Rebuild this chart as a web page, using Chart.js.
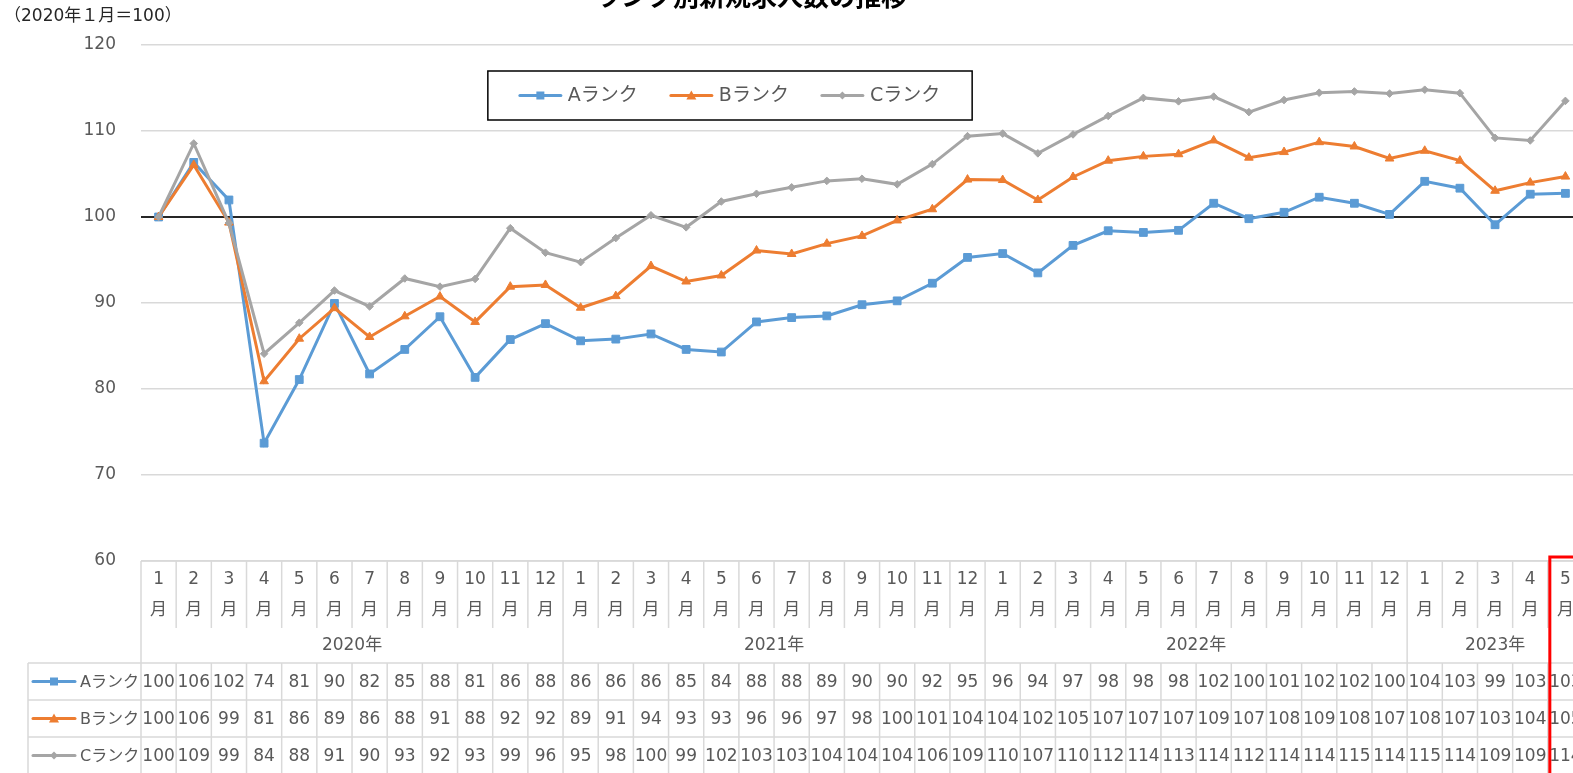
<!DOCTYPE html>
<html lang="ja">
<head>
<meta charset="utf-8">
<script src="https://cdn.jsdelivr.net/npm/chart.js@4.4.1/dist/chart.umd.min.js"></script>
<style>
  html, body { margin: 0; padding: 0; background: #fff; overflow: hidden; }
  #wrap { width: 1600px; height: 773px; }
</style>
</head>
<body>
<div id="wrap"><canvas id="rank-chart" width="1600" height="773"></canvas></div>
<script>
var chartTitle = 'ランク別新規求人数の推移';
var unitLabel = '（2020年１月＝100）';

// months along the axis, grouped by year below
var months = [1, 2, 3, 4, 5, 6, 7, 8, 9, 10, 11, 12,
              1, 2, 3, 4, 5, 6, 7, 8, 9, 10, 11, 12,
              1, 2, 3, 4, 5, 6, 7, 8, 9, 10, 11, 12,
              1, 2, 3, 4, 5];
var yearLabels = ['2020年', '2021年', '2022年', '2023年'];
var yearSpans = [12, 12, 12, 5];

var rankNames = ['Aランク', 'Bランク', 'Cランク'];
var rankA = [100, 106.35, 101.98, 73.7, 81.1, 89.95, 81.75, 84.6, 88.4, 81.35, 85.75, 87.6,
             85.6, 85.8, 86.4, 84.6, 84.3, 87.8, 88.3, 88.5, 89.8, 90.25, 92.3, 95.3,
             95.75, 93.5, 96.7, 98.4, 98.2, 98.45, 101.6, 99.8, 100.55, 102.3, 101.6, 100.3,
             104.15, 103.35, 99.1, 102.65, 102.75];
var rankB = [100, 106.05, 99.35, 80.9, 85.85, 89.4, 86.05, 88.45, 90.75, 87.8, 91.9, 92.1,
             89.45, 90.8, 94.3, 92.5, 93.2, 96.1, 95.7, 96.9, 97.8, 99.6, 100.9, 104.35,
             104.3, 101.98, 104.65, 106.55, 107.05, 107.3, 108.9, 106.9, 107.55, 108.7, 108.2, 106.8,
             107.7, 106.55, 103.05, 104.0, 104.7];
var rankC = [100, 108.55, 99.3, 84.1, 87.7, 91.45, 89.6, 92.85, 91.9, 92.8, 98.7, 95.85,
             94.75, 97.55, 100.2, 98.8, 101.8, 102.7, 103.45, 104.2, 104.45, 103.8, 106.15, 109.4,
             109.7, 107.4, 109.6, 111.75, 113.85, 113.45, 114.0, 112.2, 113.6, 114.45, 114.6, 114.35,
             114.8, 114.4, 109.2, 108.9, 113.5];

var rankColors = ['#5b9bd5', '#ed7d31', '#a5a5a5'];
var rankMarkers = ['rect', 'triangle', 'rectRot'];
var textColor = '#595959';
var lineGray = '#d9d9d9';
var numFont = '"DejaVu Sans", "Noto Sans CJK JP", sans-serif';
var jpFont = '"Noto Sans CJK JP", sans-serif';

function drawMarker(ctx, style, x, y, color) {
  ctx.fillStyle = color;
  ctx.beginPath();
  if (style === 'rect') {
    ctx.rect(x - 4, y - 4, 8, 8);
  } else if (style === 'triangle') {
    ctx.moveTo(x, y - 5);
    ctx.lineTo(x + 5, y + 4);
    ctx.lineTo(x - 5, y + 4);
    ctx.closePath();
  } else {
    ctx.moveTo(x, y - 4);
    ctx.lineTo(x + 4, y);
    ctx.lineTo(x, y + 4);
    ctx.lineTo(x - 4, y);
    ctx.closePath();
  }
  ctx.fill();
}

function drawKey(ctx, i, x0, x1, y) {
  ctx.strokeStyle = rankColors[i];
  ctx.lineWidth = 3;
  ctx.lineCap = 'round';
  ctx.beginPath();
  ctx.moveTo(x0, y);
  ctx.lineTo(x1, y);
  ctx.stroke();
  ctx.lineCap = 'butt';
  drawMarker(ctx, rankMarkers[i], (x0 + x1) / 2, y, rankColors[i]);
}

function hLine(ctx, x0, x1, y) {
  ctx.beginPath();
  ctx.moveTo(x0, y);
  ctx.lineTo(x1, y);
  ctx.stroke();
}
function vLine(ctx, x, y0, y1) {
  ctx.beginPath();
  ctx.moveTo(x, y0);
  ctx.lineTo(x, y1);
  ctx.stroke();
}

// title, unit note, boxed legend, data table and the red highlight box
var excelDecor = {
  id: 'excelDecor',
  afterDraw: function(chart) {
    var ctx = chart.ctx;
    var area = chart.chartArea;
    var xs = chart.scales.x;
    var n = months.length;
    var colW = (area.right - area.left) / n;
    var series = chart.data.datasets.map(function(d) { return d.data; });
    ctx.save();

    // title (top of it is cut off in the original)
    ctx.fillStyle = '#000';
    ctx.font = 'bold 26px ' + jpFont;
    ctx.textAlign = 'center';
    ctx.textBaseline = 'alphabetic';
    ctx.fillText(chartTitle, 751, 6);

    ctx.font = '17px ' + numFont;
    ctx.textAlign = 'left';
    ctx.textBaseline = 'middle';
    ctx.fillStyle = '#262626';
    ctx.fillText(unitLabel, 4, 17);

    // legend box
    ctx.font = '19px ' + numFont;
    var keyLen = 41, keyGap = 7, itemGap = 33, padX = 32;
    var widths = rankNames.map(function(t) { return ctx.measureText(t).width; });
    var total = 0;
    widths.forEach(function(w, i) { total += keyLen + keyGap + w + (i ? itemGap : 0); });
    var boxW = total + padX * 2;
    var boxL = 730 - boxW / 2, boxT = 71, boxH = 49;
    ctx.fillStyle = '#fff';
    ctx.fillRect(boxL, boxT, boxW, boxH);
    ctx.strokeStyle = '#000';
    ctx.lineWidth = 1.5;
    ctx.strokeRect(boxL, boxT, boxW, boxH);
    var lx = boxL + padX, ly = boxT + boxH / 2;
    rankNames.forEach(function(name, i) {
      drawKey(ctx, i, lx, lx + keyLen, ly);
      ctx.fillStyle = textColor;
      ctx.fillText(name, lx + keyLen + keyGap, ly + 1);
      lx += keyLen + keyGap + widths[i] + itemGap;
    });

    // category axis as a table
    var top = area.bottom;
    var monthEnd = top + 67, tableTop = top + 102, rowH = 37;
    var tableLeft = 28, right = chart.width;
    ctx.strokeStyle = lineGray;
    ctx.lineWidth = 1.5;
    hLine(ctx, area.left, right, top);
    hLine(ctx, tableLeft, right, tableTop);
    for (var r = 1; r <= 3; r++) hLine(ctx, tableLeft, right, tableTop + rowH * r);
    vLine(ctx, tableLeft, tableTop, chart.height);

    var yearStarts = [];
    var acc = 0;
    yearSpans.forEach(function(s) { yearStarts.push(acc); acc += s; });
    yearStarts.push(acc);

    for (var b = 0; b <= n; b++) {
      var bx = area.left + colW * b;
      var isYear = yearStarts.indexOf(b) >= 0;
      vLine(ctx, bx, top, isYear ? chart.height : monthEnd);
      if (!isYear) vLine(ctx, bx, tableTop, chart.height);
    }

    ctx.fillStyle = textColor;
    ctx.textAlign = 'center';
    ctx.textBaseline = 'middle';
    for (var i = 0; i < n; i++) {
      var cx = xs.getPixelForValue(i);
      ctx.font = '17px ' + numFont;
      ctx.fillText(String(months[i]), cx, top + 19);
      ctx.font = '17px ' + jpFont;
      ctx.fillText('月', cx, top + 48);
      ctx.font = '17px ' + numFont;
      for (var s = 0; s < series.length; s++) {
        ctx.fillText(String(Math.round(series[s][i])), cx, tableTop + rowH * s + rowH / 2 + 1);
      }
    }
    ctx.font = '17px ' + numFont;
    yearLabels.forEach(function(label, k) {
      var yx = area.left + colW * (yearStarts[k] + yearStarts[k + 1]) / 2;
      ctx.fillText(label, yx, top + 85);
    });

    // row headers
    ctx.textAlign = 'left';
    ctx.font = '16px ' + numFont;
    rankNames.forEach(function(name, i) {
      var ry = tableTop + rowH * i + rowH / 2;
      drawKey(ctx, i, 33, 75, ry);
      ctx.fillStyle = textColor;
      ctx.fillText(name, 80, ry + 1);
    });

    // red highlight around the latest month
    var lastLeft = area.left + colW * (n - 1);
    ctx.strokeStyle = '#ff0000';
    ctx.lineWidth = 3;
    ctx.strokeRect(lastLeft + 2, top - 4, colW + 40, 300);

    ctx.restore();
  }
};

var datasets = [rankA, rankB, rankC].map(function(values, i) {
  return {
    label: rankNames[i],
    data: values,
    borderColor: rankColors[i],
    backgroundColor: rankColors[i],
    borderWidth: 3,
    pointStyle: rankMarkers[i],
    pointRadius: [5.5, 5, 3.8][i],
    pointBorderWidth: 1,
    pointBorderColor: rankColors[i],
    pointBackgroundColor: rankColors[i],
    tension: 0,
    order: 3 - i
  };
});

var chartEl = document.getElementById('rank-chart');
var myChart = new Chart(chartEl, {
  type: 'line',
  data: {
    labels: months.map(function(m) { return m + '月'; }),
    datasets: datasets
  },
  options: {
    responsive: false,
    animation: false,
    devicePixelRatio: 1,
    layout: {
      padding: { left: 0, right: 17, top: 45, bottom: 212 }
    },
    plugins: {
      legend: { display: false },
      title: { display: false },
      tooltip: { enabled: false }
    },
    scales: {
      x: {
        type: 'category',
        offset: true,
        display: false
      },
      y: {
        min: 60,
        max: 120,
        afterFit: function(axis) { axis.width = 141; },
        border: { display: false },
        grid: {
          drawTicks: false,
          color: function(c) { return c.tick && c.tick.value === 100 ? '#262626' : lineGray; },
          lineWidth: function(c) { return c.tick && c.tick.value === 100 ? 2 : 1.5; }
        },
        ticks: {
          stepSize: 10,
          padding: 25,
          color: textColor,
          font: { family: '"DejaVu Sans", sans-serif', size: 17 }
        }
      }
    }
  },
  plugins: [excelDecor]
});
</script>
</body>
</html>
